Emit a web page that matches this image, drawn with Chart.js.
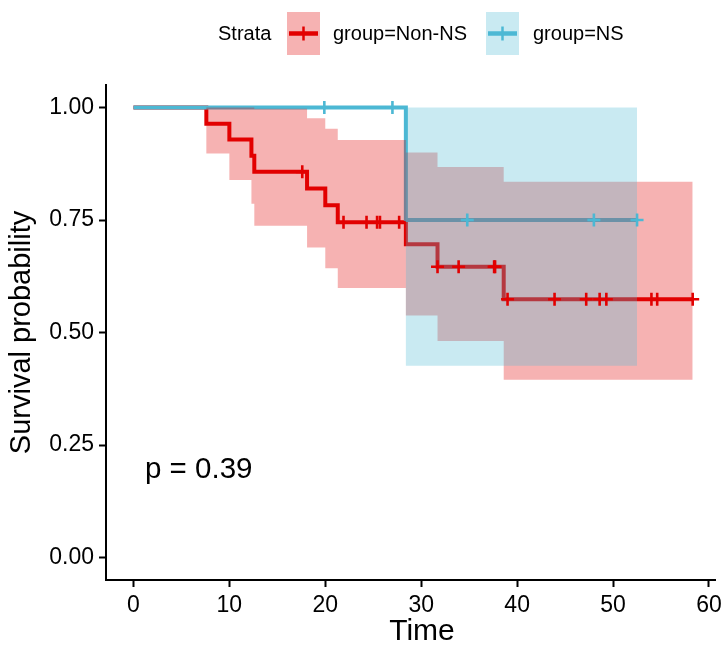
<!DOCTYPE html>
<html><head><meta charset="utf-8">
<script src="https://cdn.jsdelivr.net/npm/chart.js@4.4.0/dist/chart.umd.min.js"></script>
<style>html,body{margin:0;padding:0;background:#fff;}</style>
</head><body>
<canvas id="c" width="725" height="645"></canvas>
<script>
// ---- data ----
const nonNsTime  = [0, 7.6, 10.0, 12.3, 12.6, 18.1, 20.0, 21.3, 28.4, 31.7, 38.6, 58.3];
const nonNsSurv  = [1, 0.964, 0.929, 0.893, 0.857, 0.820, 0.783, 0.745, 0.696, 0.646, 0.574, 0.574];
const nonNsUpper = [1, 1, 1, 1, 0.997, 0.976, 0.953, 0.928, 0.900, 0.868, 0.835, 0.835];
const nonNsLower = [1, 0.898, 0.839, 0.786, 0.737, 0.689, 0.643, 0.599, 0.538, 0.481, 0.395, 0.395];
const nonNsCensor = [17.6, 21.9, 24.3, 25.4, 25.7, 27.7, 31.7, 33.9, 37.6, 37.7, 39.0, 43.9, 47.2, 48.6, 49.3, 54.0, 54.6, 58.3];

const nsTime  = [0, 28.4, 52.5];
const nsSurv  = [1, 0.75, 0.75];
const nsUpper = [1, 1, 1];
const nsLower = [1, 0.426, 0.426];
const nsCensor = [19.9, 27.0, 34.8, 48.0, 52.5];

const xTicks = [0, 10, 20, 30, 40, 50, 60];
const yTicks = [0, 0.25, 0.5, 0.75, 1];
const strataLabels = ['group=Non-NS', 'group=NS'];
const pText = 'p = 0.39';
const xTitle = 'Time';
const yTitle = 'Survival probability';

// ---- styling ----
const RED = 'rgb(226,0,0)';
const RED_BAND = 'rgba(226,0,0,0.3)';
const BLUE = 'rgb(76,184,212)';
const BLUE_BAND = 'rgba(76,184,212,0.3)';
const FONT = "'Liberation Sans', Arial, sans-serif";

function pts(xs, ys) { return xs.map((x, i) => ({x: x, y: ys[i]})); }
function stepAt(xs, ys, t) {
  let v = ys[0];
  for (let i = 0; i < xs.length; i++) { if (xs[i] <= t) v = ys[i]; }
  return v;
}
function censorPts(cs, xs, ys) { return cs.map(t => ({x: t, y: stepAt(xs, ys, t)})); }

const lineBase = {type: 'line', stepped: true, pointRadius: 0, pointHitRadius: 0, tension: 0};

const datasets = [
  {type: 'line', showLine: false, data: censorPts(nonNsCensor, nonNsTime, nonNsSurv), pointStyle: 'cross', pointRadius: 6.5, pointBorderWidth: 2.6, pointBorderColor: RED, pointBackgroundColor: RED, order: 0},
  {type: 'line', showLine: false, data: censorPts(nsCensor, nsTime, nsSurv), pointStyle: 'cross', pointRadius: 6.5, pointBorderWidth: 2.6, pointBorderColor: BLUE, pointBackgroundColor: BLUE, order: 0},
  Object.assign({}, lineBase, {data: pts(nsTime, nsUpper), borderColor: 'transparent', borderWidth: 0, backgroundColor: BLUE_BAND, fill: '+1', order: 1}),
  Object.assign({}, lineBase, {data: pts(nsTime, nsLower), borderColor: 'transparent', borderWidth: 0, fill: false, order: 1}),
  Object.assign({}, lineBase, {data: pts(nonNsTime, nonNsUpper), borderColor: 'transparent', borderWidth: 0, backgroundColor: RED_BAND, fill: '+1', order: 1}),
  Object.assign({}, lineBase, {data: pts(nonNsTime, nonNsLower), borderColor: 'transparent', borderWidth: 0, fill: false, order: 1}),
  Object.assign({}, lineBase, {data: pts(nsTime, nsSurv), borderColor: BLUE, borderWidth: 4, fill: false, order: 2}),
  Object.assign({}, lineBase, {data: pts(nonNsTime, nonNsSurv), borderColor: RED, borderWidth: 4, fill: false, order: 2})
];

const overlay = {
  id: 'overlay',
  afterDraw(chart) {
    const ctx = chart.ctx;
    ctx.save();
    ctx.textBaseline = 'middle';
    ctx.textAlign = 'left';
    ctx.fillStyle = '#000';
    ctx.font = '20px ' + FONT;
    ctx.fillText('Strata', 218, 34);
    const keys = [
      {x: 287, color: RED, band: RED_BAND, tx: 333, label: strataLabels[0]},
      {x: 486, color: BLUE, band: BLUE_BAND, tx: 533, label: strataLabels[1]}
    ];
    keys.forEach(k => {
      ctx.fillStyle = k.band;
      ctx.fillRect(k.x, 12, 33, 43);
      ctx.strokeStyle = k.color;
      ctx.lineWidth = 4.5;
      ctx.beginPath(); ctx.moveTo(k.x + 2, 33.5); ctx.lineTo(k.x + 31, 33.5); ctx.stroke();
      ctx.lineWidth = 2.5;
      ctx.beginPath(); ctx.moveTo(k.x + 16.5, 26.5); ctx.lineTo(k.x + 16.5, 40.5); ctx.stroke();
      ctx.fillStyle = '#000';
      ctx.fillText(k.label, k.tx, 34);
    });
    ctx.font = '29.5px ' + FONT;
    ctx.fillText(pText, 145, 470);
    // x axis title
    ctx.textAlign = 'center';
    ctx.font = '30px ' + FONT;
    ctx.fillText(xTitle, 422, 632);
    ctx.restore();
  }
};

new Chart(document.getElementById('c'), {
  data: {datasets: datasets},
  plugins: [overlay],
  options: {
    responsive: false,
    devicePixelRatio: 1,
    animation: false,
    events: [],
    layout: {padding: {left: 0, top: 85, right: 0, bottom: 0}},
    plugins: {legend: {display: false}, tooltip: {enabled: false}, filler: {drawTime: 'beforeDatasetDraw'}},
    scales: {
      x: {
        type: 'linear', min: -2.86, max: 60.72,
        afterBuildTicks: s => { s.ticks = xTicks.map(v => ({value: v})); },
        afterFit: s => { s.height = 65; s.paddingRight = 0; s.paddingLeft = 0; },
        ticks: {font: {family: FONT, size: 23}, color: '#000', padding: 5, maxRotation: 0, autoSkip: false, callback: v => String(v)},
        grid: {display: true, drawOnChartArea: false, drawTicks: true, tickLength: 7, tickWidth: 2, tickColor: '#000'},
        border: {display: true, color: '#000', width: 2},
        title: {display: false}
      },
      y: {
        type: 'linear', min: -0.05, max: 1.05,
        afterBuildTicks: s => { s.ticks = yTicks.map(v => ({value: v})); },
        afterFit: s => { s.width = 106; s.paddingTop = 0; s.paddingBottom = 0; },
        ticks: {font: {family: FONT, size: 23}, color: '#000', padding: 5, autoSkip: false, callback: v => v.toFixed(2)},
        grid: {display: true, drawOnChartArea: false, drawTicks: true, tickLength: 7, tickWidth: 2, tickColor: '#000'},
        border: {display: true, color: '#000', width: 2},
        title: {display: true, text: yTitle, color: '#000', font: {family: FONT, size: 29}, padding: {top: 5, bottom: 0}}
      }
    }
  }
});
</script>
</body></html>
